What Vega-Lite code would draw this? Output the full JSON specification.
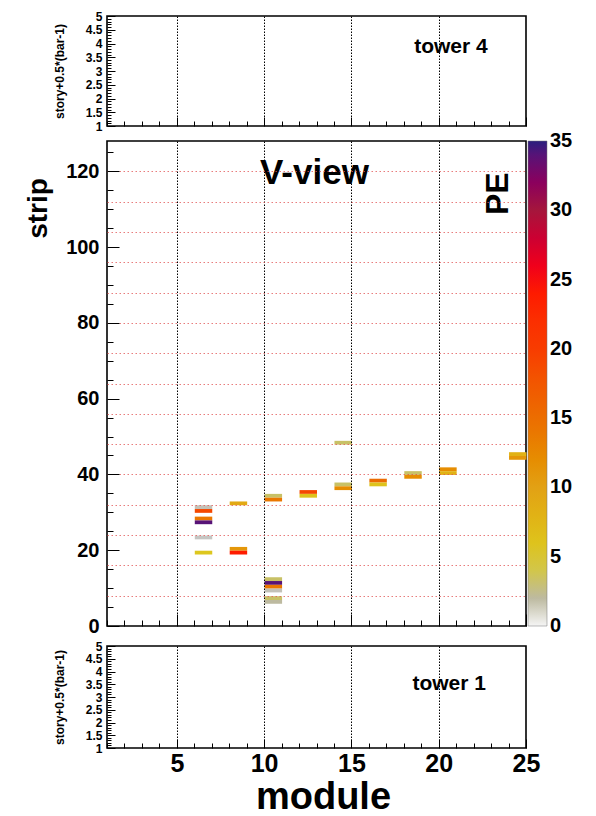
{
  "$schema": "https://vega.github.io/schema/vega-lite/v6.json",
  "background": "white",
  "padding": {"left": 23, "top": 9, "right": 0, "bottom": 0},
  "config": {
    "font": "Liberation Sans",
    "view": {"stroke": "#000", "strokeWidth": 1.6},
    "axis": {"labelFont": "Liberation Sans", "labelFontWeight": "bold", "labelColor": "#000", "titleFont": "Liberation Sans", "titleFontWeight": "bold", "titleColor": "#000", "tickColor": "#000", "domain": false, "labelOverlap": false}
  },
  "datasets": {
    "cells": [
      {"module": 6, "strip": 31, "pe": 1.4},
      {"module": 6, "strip": 30, "pe": 19},
      {"module": 6, "strip": 28, "pe": 14},
      {"module": 6, "strip": 27, "pe": 34},
      {"module": 6, "strip": 23, "pe": 1.1},
      {"module": 6, "strip": 19, "pe": 5.5},
      {"module": 8, "strip": 32, "pe": 9},
      {"module": 8, "strip": 20, "pe": 11},
      {"module": 8, "strip": 19, "pe": 24},
      {"module": 10, "strip": 34, "pe": 3},
      {"module": 10, "strip": 33, "pe": 14},
      {"module": 10, "strip": 12, "pe": 3},
      {"module": 10, "strip": 11, "pe": 34},
      {"module": 10, "strip": 10, "pe": 14},
      {"module": 10, "strip": 9, "pe": 1.4},
      {"module": 10, "strip": 7, "pe": 3},
      {"module": 10, "strip": 6, "pe": 2},
      {"module": 12, "strip": 35, "pe": 19},
      {"module": 12, "strip": 34, "pe": 6},
      {"module": 14, "strip": 48, "pe": 3},
      {"module": 14, "strip": 37, "pe": 3},
      {"module": 14, "strip": 36, "pe": 12},
      {"module": 16, "strip": 38, "pe": 15},
      {"module": 16, "strip": 37, "pe": 6},
      {"module": 18, "strip": 40, "pe": 3},
      {"module": 18, "strip": 39, "pe": 12},
      {"module": 20, "strip": 41, "pe": 12},
      {"module": 20, "strip": 40, "pe": 8},
      {"module": 24, "strip": 45, "pe": 8},
      {"module": 24, "strip": 44, "pe": 11}
    ]
  },
  "bounds": "flush",
  "spacing": 15,
  "resolve": {"scale": {"color": "independent"}, "legend": {"color": "independent"}},
  "vconcat": [
    {
      "width": 419,
      "height": 110,
      "data": {"values": [{}]},
      "mark": {"type": "text", "text": "tower  4", "font": "Liberation Sans", "fontWeight": "bold", "fontSize": 21, "align": "center", "baseline": "middle", "color": "#000"},
      "encoding": {
        "x": {"datum": 20.7, "type": "quantitative", "scale": {"domain": [1, 25], "nice": false, "zero": false},
          "axis": {"orient": "bottom", "title": null, "labels": false,
            "values": [1,2,3,4,5,6,7,8,9,10,11,12,13,14,15,16,17,18,19,20,21,22,23,24,25],
            "tickSize": {"condition": {"test": "datum.value % 5 === 0", "value": -9}, "value": -5},
            "grid": true, "gridColor": "#000", "gridDash": [1.5, 1.5], "gridWidth": 1,
            "gridOpacity": {"condition": {"test": "datum.value % 5 === 0 && datum.value < 25", "value": 1}, "value": 0}}},
        "y": {"datum": 3.87, "type": "quantitative", "scale": {"domain": [1, 5], "nice": false, "zero": false},
          "axis": {"title": "story+0.5*(bar-1)", "titleFontSize": 12, "titleX": -48, "titleAlign": "center", "titleBaseline": "middle", "titleAnchor": "middle",
            "values": [1,1.1,1.2,1.3,1.4,1.5,1.6,1.7,1.8,1.9,2,2.1,2.2,2.3,2.4,2.5,2.6,2.7,2.8,2.9,3,3.1,3.2,3.3,3.4,3.5,3.6,3.7,3.8,3.9,4,4.1,4.2,4.3,4.4,4.5,4.6,4.7,4.8,4.9,5],
            "labelExpr": "abs(datum.value*2-round(datum.value*2))<0.001 ? format(datum.value,'~g') : ''",
            "labelFontSize": 12, "labelPadding": 13,
            "tickSize": {"condition": {"test": "abs(datum.value*2-round(datum.value*2))<0.001", "value": -8}, "value": -4},
            "grid": false}}
      }
    },
    {
      "bounds": "flush",
      "spacing": 20,
      "resolve": {"scale": {"color": "independent"}, "legend": {"color": "independent"}},
      "vconcat": [
        {
          "width": 419,
          "height": 485,
          "layer": [
            {
              "data": {"name": "cells"},
              "mark": {"type": "rect"},
              "encoding": {
                "x": {"field": "module", "type": "quantitative", "bin": {"step": 1, "extent": [1, 25]},
                  "scale": {"domain": [1, 25], "nice": false, "zero": false},
                  "axis": {"orient": "bottom", "title": null, "labels": false,
                    "values": [1,2,3,4,5,6,7,8,9,10,11,12,13,14,15,16,17,18,19,20,21,22,23,24,25],
                    "tickSize": {"condition": {"test": "datum.value % 5 === 0", "value": -12}, "value": -6},
                    "grid": true, "gridColor": "#000", "gridDash": [1.5, 1.5], "gridWidth": 1,
                    "gridOpacity": {"condition": {"test": "datum.value % 5 === 0 && datum.value < 25", "value": 1}, "value": 0}}},
                "y": {"field": "strip", "type": "quantitative", "bin": {"step": 1, "extent": [0, 128]},
                  "scale": {"domain": [0, 128], "nice": false, "zero": false},
                  "axis": {"title": "strip", "titleFontSize": 28, "titleX": -69, "titleY": 67, "titleAlign": "center", "titleBaseline": "middle", "titleAngle": -90,
                    "values": [0,5,8,10,15,16,20,24,25,30,32,35,40,45,48,50,55,56,60,64,65,70,72,75,80,85,88,90,95,96,100,104,105,110,112,115,120,125],
                    "labelExpr": "datum.value % 20 === 0 ? datum.label : ''",
                    "labelFontSize": 20, "labelPadding": 20,
                    "tickSize": {"condition": {"test": "datum.value % 20 === 0", "value": -12}, "value": -6},
                    "tickOpacity": {"condition": {"test": "datum.value % 5 === 0", "value": 1}, "value": 0},
                    "grid": true, "gridColor": "#e05050", "gridDash": [1.5, 2.5], "gridWidth": 1,
                    "gridOpacity": {"condition": {"test": "datum.value % 8 === 0 && datum.value > 0", "value": 0.75}, "value": 0}}},
                "color": {"field": "pe", "type": "quantitative",
                  "scale": {"domain": [0, 1, 2, 3, 5, 10, 15, 20, 25, 30, 35],
                    "range": ["#f5f5f5", "#c6c6c6", "#bdbaa0", "#c8c166", "#dccb22", "#e2a114", "#eb6b02", "#f83c00", "#ff0800", "#a5163c", "#2b1f7e"]},
                  "legend": {"title": null, "orient": "right", "offset": 2, "padding": 0, "direction": "vertical",
                    "gradientLength": 485, "gradientThickness": 19,
                    "values": [0, 5, 10, 15, 20, 25, 30, 35],
                    "labelFontSize": 20, "labelFont": "Liberation Sans", "labelFontWeight": "bold", "labelColor": "#000",
                    "labelOffset": 3, "labelBaseline": "middle", "labelOverlap": false,
                    "gradientStrokeColor": "#777", "gradientStrokeWidth": 0.5,
                    "encode": {"labels": {"update": {"baseline": {"value": "middle"}}}}}}
              }
            },
            {
              "data": {"values": [{}]},
              "mark": {"type": "text", "text": "V-view", "font": "Liberation Sans", "fontWeight": "bold", "fontSize": 35, "align": "center", "baseline": "middle", "color": "#000"},
              "encoding": {
                "x": {"datum": 12.88, "type": "quantitative"},
                "y": {"datum": 119.6, "type": "quantitative"}
              }
            },
            {
              "data": {"values": [{}]},
              "mark": {"type": "text", "text": "PE", "font": "Liberation Sans", "fontWeight": "bold", "fontSize": 32, "align": "center", "baseline": "middle", "angle": 270, "color": "#000"},
              "encoding": {
                "x": {"datum": 23.39, "type": "quantitative"},
                "y": {"datum": 114.1, "type": "quantitative"}
              }
            }
          ]
        },
        {
          "width": 419,
          "height": 102,
          "data": {"values": [{}]},
          "mark": {"type": "text", "text": "tower  1", "font": "Liberation Sans", "fontWeight": "bold", "fontSize": 21, "align": "center", "baseline": "middle", "color": "#000"},
          "encoding": {
            "x": {"datum": 20.6, "type": "quantitative", "scale": {"domain": [1, 25], "nice": false, "zero": false},
              "axis": {"orient": "bottom", "title": "module", "titleFontSize": 38, "titleX": 216, "titleY": 60, "titleAlign": "center", "titleBaseline": "alphabetic",
                "values": [1,2,3,4,5,6,7,8,9,10,11,12,13,14,15,16,17,18,19,20,21,22,23,24,25],
                "labelExpr": "datum.value % 5 === 0 ? datum.label : ''",
                "labelFontSize": 25, "labelPadding": 12, "labelFlush": false,
                "tickSize": {"condition": {"test": "datum.value % 5 === 0", "value": -9}, "value": -5},
                "grid": true, "gridColor": "#000", "gridDash": [1.5, 1.5], "gridWidth": 1,
                "gridOpacity": {"condition": {"test": "datum.value % 5 === 0 && datum.value < 25", "value": 1}, "value": 0}}},
            "y": {"datum": 3.5, "type": "quantitative", "scale": {"domain": [1, 5], "nice": false, "zero": false},
              "axis": {"title": "story+0.5*(bar-1)", "titleFontSize": 12, "titleX": -48, "titleAlign": "center", "titleBaseline": "middle",
                "values": [1,1.1,1.2,1.3,1.4,1.5,1.6,1.7,1.8,1.9,2,2.1,2.2,2.3,2.4,2.5,2.6,2.7,2.8,2.9,3,3.1,3.2,3.3,3.4,3.5,3.6,3.7,3.8,3.9,4,4.1,4.2,4.3,4.4,4.5,4.6,4.7,4.8,4.9,5],
                "labelExpr": "abs(datum.value*2-round(datum.value*2))<0.001 ? format(datum.value,'~g') : ''",
                "labelFontSize": 12, "labelPadding": 13,
                "tickSize": {"condition": {"test": "abs(datum.value*2-round(datum.value*2))<0.001", "value": -8}, "value": -4},
                "grid": false}}
          }
        }
      ]
    }
  ]
}
